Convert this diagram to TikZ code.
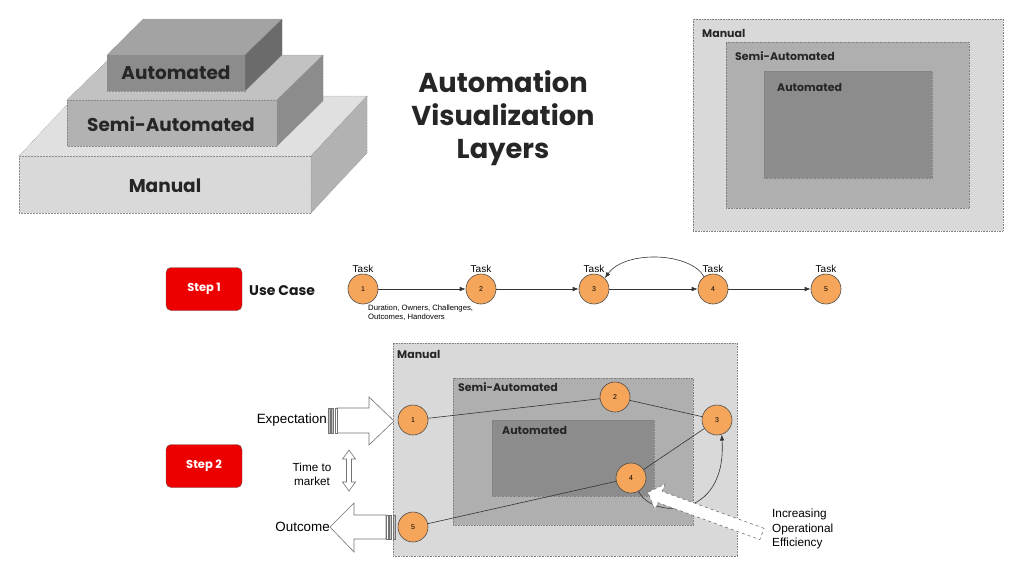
\documentclass[tikz,border=0pt]{standalone}
\usepackage{fontspec}
\setmainfont{Liberation Sans}
\newfontfamily\rh{Poppins}
\usetikzlibrary{arrows.meta}
\definecolor{orng}{HTML}{F5A65B}
\definecolor{rhred}{HTML}{EE0000}
\definecolor{gManual}{HTML}{D9D9D9}
\definecolor{gSemi}{HTML}{AFAFAF}
\definecolor{gAuto}{HTML}{8C8C8C}
\newcommand\fsz[1]{\fontsize{#1}{#1}\selectfont}
\tikzset{
  layerbox/.style={draw=black!50, densely dotted, line width=0.6pt, outer sep=0pt, inner sep=0pt, anchor=north west},
  blk/.style={draw=black!45, densely dotted, line width=0.5pt},
  task/.style={circle, draw=black!70, line width=0.6pt, fill=orng, minimum size=30pt, inner sep=0pt, font=\fsz{7}},
  edge/.style={draw=black!80, line width=0.6pt},
  arr/.style={edge, -{Latex[length=6pt,width=4.5pt]}},
  bigarrow/.style={draw=black!55, fill=white, line width=0.6pt, line join=miter},
  lbl/.style={inner sep=0pt, anchor=west},
  steplbl/.style={draw=black!60, fill=rhred, rounded corners=5pt, minimum width=76pt, minimum height=43pt, inner sep=0pt, text=white, font=\rh\bfseries\fsz{11.5}},
}
\begin{document}
\begin{tikzpicture}[x=1pt,y=-1pt]
\useasboundingbox (0,0) rectangle (1018,574);
\fill[white] (0,0) rectangle (1018,574);

% ---------- 3D stack ----------
% Manual
\filldraw[blk, fill=black!12] (19,156) -- (75,96) -- (367,96) -- (311,156) -- cycle;
\filldraw[blk, fill=black!15] (19,156) rectangle (311,213);
\filldraw[blk, fill=black!30] (311,156) -- (367,96) -- (367,153) -- (311,213) -- cycle;
% Semi
\filldraw[blk, fill=black!24] (67,100) -- (113,55) -- (323,55) -- (277,100) -- cycle;
\filldraw[blk, fill=black!30] (67,100) rectangle (277,146);
\filldraw[blk, fill=black!45] (277,100) -- (323,55) -- (323,101) -- (277,146) -- cycle;
% Automated
\filldraw[blk, fill=black!36] (107,55) -- (143,19) -- (282,19) -- (245,55) -- cycle;
\filldraw[blk, fill=black!45] (107,55) rectangle (245,91);
\filldraw[blk, fill=black!58] (245,55) -- (282,19) -- (282,55) -- (245,91) -- cycle;
\node[font=\rh\bfseries\fsz{18.5}, text=black!85] (sAuto) at (176,73) {Automated};
\node[font=\rh\bfseries\fsz{18.5}, text=black!85] (sSemi) at (171,124) {Semi-Automated};
\node[font=\rh\bfseries\fsz{18.5}, text=black!85] (sMan) at (165,186) {Manual};

% ---------- Title ----------
\node[font=\rh\bfseries\fontsize{27.3}{33}\selectfont, text=black!85, align=center, inner sep=0pt] (title) at (503,118)
  {Automation\\Visualization\\Layers};

% ---------- top-right nested boxes ----------
\node[layerbox, fill=gManual, minimum width=310pt, minimum height=212pt] (tM) at (693,19) {};
\node[layerbox, fill=gSemi, minimum width=243pt, minimum height=166pt] (tS) at (726,42) {};
\node[layerbox, fill=gAuto, minimum width=168pt, minimum height=107pt] (tA) at (764,71) {};
\node[lbl, font=\rh\bfseries\fsz{11}, text=black!85] (tMl) at (702,33) {Manual};
\node[lbl, font=\rh\bfseries\fsz{11}, text=black!85] (tSl) at (735,56) {Semi-Automated};
\node[lbl, font=\rh\bfseries\fsz{11}, text=black!85] (tAl) at (777,87) {Automated};

% ---------- Step 1 ----------
\node[steplbl] (step1) at (204,289) {Step 1};
\node[lbl, font=\rh\bfseries\fsz{14}, text=black!90] (usecase) at (249,291) {Use Case};

\foreach \i/\x in {1/363,2/481,3/594,4/713,5/826}{
  \node[task] (t\i) at (\x,289) {\i};
  \node[font=\fsz{10}, inner sep=0pt] (tl\i) at (\x,269) {Task};
}
\draw[arr] (t1) -- (t2);
\draw[arr] (t2) -- (t3);
\draw[arr] (t3) -- (t4);
\draw[arr] (t4) -- (t5);
\draw[arr] (t4.126) .. controls (690,252) and (625,250) .. (t3.45);
\node[lbl, font=\fontsize{7.7}{9}\selectfont, align=left, anchor=north west] (dur) at (368,304.5)
  {Duration, Owners, Challenges,\\Outcomes, Handovers};

% ---------- Step 2 ----------
\node[steplbl] (step2) at (204,466) {Step 2};

\node[layerbox, fill=gManual, minimum width=344pt, minimum height=213pt] (bM) at (393,343) {};
\node[layerbox, fill=gSemi, minimum width=240pt, minimum height=147pt] (bS) at (453,378) {};
\node[layerbox, fill=gAuto, minimum width=162pt, minimum height=76pt] (bA) at (492,420) {};
\node[lbl, font=\rh\bfseries\fsz{11}, text=black!85] (bMl) at (397,354) {Manual};
\node[lbl, font=\rh\bfseries\fsz{11}, text=black!85] (bSl) at (458,387) {Semi-Automated};
\node[lbl, font=\rh\bfseries\fsz{11}, text=black!85] (bAl) at (502,430) {Automated};

\node[task] (c1) at (413,420) {1};
\node[task] (c2) at (615,397) {2};
\node[task] (c3) at (717,420) {3};
\node[task] (c4) at (631,478) {4};
\node[task] (c5) at (413,527) {5};
\draw[edge] (c1) -- (c2);
\draw[edge] (c2) -- (c3);
\draw[edge] (c3) -- (c4);
\draw[edge] (c4) -- (c5);
\draw[arr] (c4.-60) .. controls (650,518) and (727,522) .. (c3.-72);

% white efficiency arrow
\filldraw[bigarrow, dashed] (764.2,528.4) -- (662.2,491.4) -- (665,484) -- (647.9,492.3)
  -- (655,510) -- (657.8,502.6) -- (759.8,539.6) -- cycle;
\node[lbl, font=\fontsize{11.8}{14.5}\selectfont, align=left, anchor=north west] (eff) at (772,509)
  {Increasing\\Operational\\Efficiency};

% Expectation arrow
\filldraw[bigarrow] (337,408) -- (369,408) -- (369,397) -- (394,421) -- (369,445) -- (369,433) -- (337,433) -- cycle;
\filldraw[bigarrow, fill=black!25] (328,408) rectangle (330,433);
\filldraw[bigarrow, fill=black!25] (331.5,408) rectangle (333.5,433);
\filldraw[bigarrow, fill=white] (335,408) rectangle (337,433);
\node[lbl, anchor=east, font=\fsz{13.4}] (expect) at (327,420) {Expectation};

% Outcome arrow
\filldraw[bigarrow] (386,515) -- (354,515) -- (354,503) -- (330,527) -- (354,552) -- (354,539) -- (386,539) -- cycle;
\filldraw[bigarrow, fill=white] (386,515) rectangle (388,539);
\filldraw[bigarrow, fill=black!25] (389.5,515) rectangle (391.5,539);
\filldraw[bigarrow, fill=black!25] (393,515) rectangle (395,539);
\node[lbl, anchor=east, font=\fsz{13.4}] (outc) at (330,527) {Outcome};

% time to market
\filldraw[bigarrow] (349,450) -- (355.5,459) -- (351.5,459) -- (351.5,482) -- (355.5,482) -- (349,491)
  -- (342.5,482) -- (346.5,482) -- (346.5,459) -- (342.5,459) -- cycle;
\node[font=\fontsize{11.7}{14}\selectfont, align=center, inner sep=0pt] (ttm) at (312,474)
  {Time to\\market};
\end{tikzpicture}
\end{document}
